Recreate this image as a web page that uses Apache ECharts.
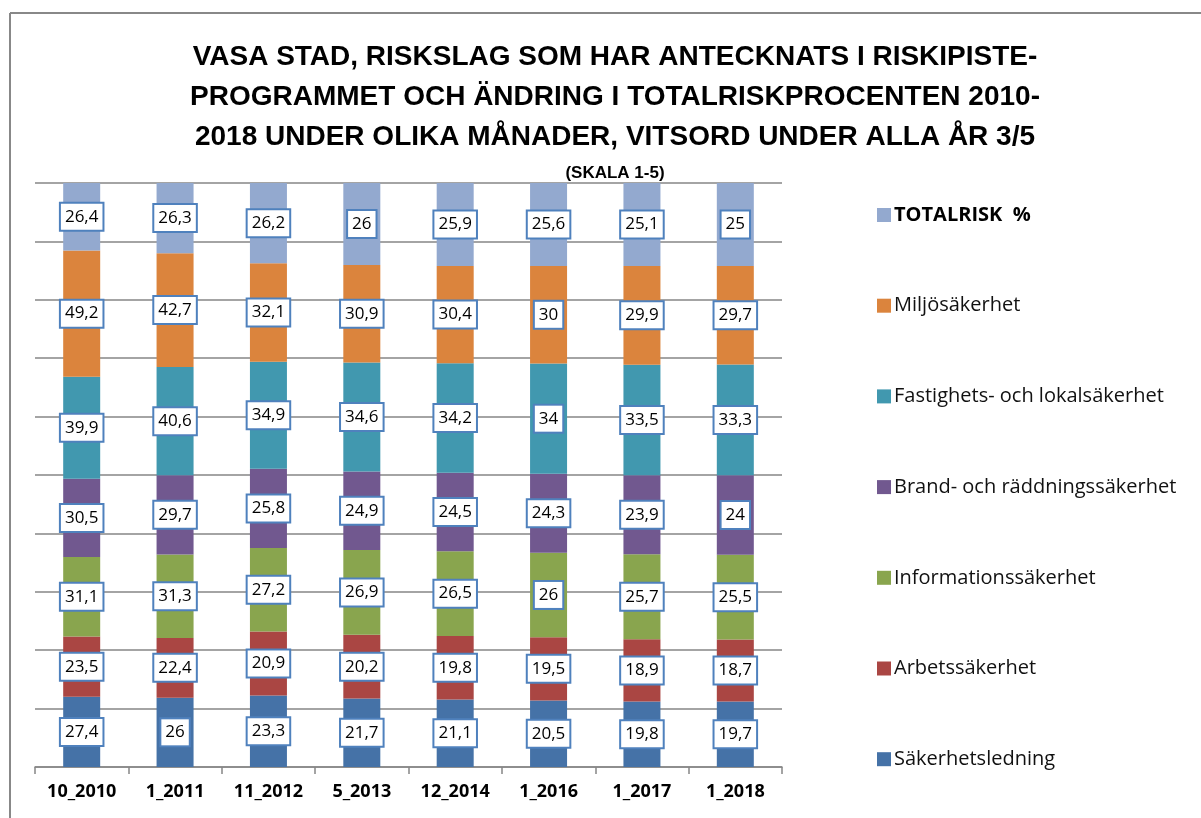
<!DOCTYPE html>
<html>
<head>
<meta charset="utf-8">
<script src="https://cdn.jsdelivr.net/npm/echarts@6/dist/echarts.min.js"></script>
<style>
  html, body { margin: 0; padding: 0; background: #fff; }
  #chart { width: 1201px; height: 818px; }
</style>
</head>
<body>
<div id="chart"></div>
<script>
// categories (month_year)
const categories = ['10_2010', '1_2011', '11_2012', '5_2013', '12_2014', '1_2016', '1_2017', '1_2018']

// risk types, bottom to top in the stack
const seriesNames = [
  'Säkerhetsledning',
  'Arbetssäkerhet',
  'Informationssäkerhet',
  'Brand- och räddningssäkerhet',
  'Fastighets- och lokalsäkerhet',
  'Miljösäkerhet',
  'TOTALRISK  %'
]

const sakerhetsledning = [27.4, 26, 23.3, 21.7, 21.1, 20.5, 19.8, 19.7]
const arbetssakerhet = [23.5, 22.4, 20.9, 20.2, 19.8, 19.5, 18.9, 18.7]
const informationssakerhet = [31.1, 31.3, 27.2, 26.9, 26.5, 26, 25.7, 25.5]
const brandsakerhet = [30.5, 29.7, 25.8, 24.9, 24.5, 24.3, 23.9, 24]
const fastighetssakerhet = [39.9, 40.6, 34.9, 34.6, 34.2, 34, 33.5, 33.3]
const miljosakerhet = [49.2, 42.7, 32.1, 30.9, 30.4, 30, 29.9, 29.7]
const totalrisk = [26.4, 26.3, 26.2, 26, 25.9, 25.6, 25.1, 25]

const allValues = [sakerhetsledning, arbetssakerhet, informationssakerhet, brandsakerhet,
  fastighetssakerhet, miljosakerhet, totalrisk]

const colors = ['#4572A7', '#AA4643', '#89A54E', '#71588F', '#4198AF', '#DB843D', '#93A9CF']

// 100% stacked: share of each column total
const totals = categories.map((_, i) => allValues.reduce((s, arr) => s + arr[i], 0))

const fmt = (v) => String(v).replace('.', ',')

const series = seriesNames.map((name, k) => ({
  name,
  type: 'bar',
  stack: 'all',
  barWidth: 37,
  itemStyle: { color: colors[k] },
  data: allValues[k].map((v, i) => ({ value: (v / totals[i]) * 100, raw: v })),
  label: {
    show: true,
    position: 'inside',
    formatter: (p) => fmt(p.data.raw),
    color: '#000',
    fontFamily: 'Open Sans',
    fontSize: 17,
    backgroundColor: '#fff',
    borderColor: '#4F81BD',
    borderWidth: 2,
    padding: [5, 4, 4, 4],
  },
}))

const chart = echarts.init(document.getElementById('chart'), null, { renderer: 'canvas' })

chart.setOption({
  animation: false,
  color: colors,
  title: [
    {
      text: 'VASA STAD, RISKSLAG SOM HAR ANTECKNATS I RISKIPISTE-\nPROGRAMMET OCH ÄNDRING I TOTALRISKPROCENTEN 2010-\n2018 UNDER OLIKA MÅNADER, VITSORD UNDER ALLA ÅR 3/5',
      left: 610,
      top: 32,
      textAlign: 'center',
      textStyle: {
        fontFamily: 'Liberation Sans, Arial, sans-serif',
        fontWeight: 'bold',
        fontSize: 28,
        lineHeight: 40,
        color: '#000',
      },
    },
    {
      text: '(SKALA 1-5)',
      left: 610,
      top: 160,
      textAlign: 'center',
      textStyle: {
        fontFamily: 'Liberation Sans, Arial, sans-serif',
        fontWeight: 'bold',
        fontSize: 17,
        color: '#000',
      },
    },
  ],
  legend: {
    orient: 'vertical',
    left: 872,
    top: 199,
    itemWidth: 14,
    itemHeight: 14,
    itemGap: 68.7,
    icon: 'rect',
    data: seriesNames.slice().reverse(),
    formatter: (name) => (name === 'TOTALRISK  %' ? '{b|' + name + '}' : name),
    textStyle: {
      fontFamily: 'Open Sans',
      fontSize: 20,
      lineHeight: 22,
      color: '#111',
      padding: [0, 0, 0, -2],
      rich: {
        b: { fontFamily: 'Open Sans', fontSize: 20, fontWeight: 'bold', color: '#000' },
      },
    },
  },
  grid: { left: 35, right: 419, top: 183, bottom: 51 },
  xAxis: {
    type: 'category',
    data: categories,
    axisLine: { lineStyle: { color: '#868686', width: 1.5 } },
    axisTick: { show: true, length: 7, lineStyle: { color: '#868686', width: 1.5 } },
    axisLabel: {
      fontFamily: 'Open Sans',
      fontWeight: 'bold',
      fontSize: 18,
      color: '#000',
      margin: 16,
    },
  },
  yAxis: {
    type: 'value',
    min: 0,
    max: 100,
    interval: 10,
    axisLabel: { show: false },
    axisLine: { show: false },
    axisTick: { show: false },
    splitLine: { lineStyle: { color: '#868686', width: 1.5 } },
  },
  graphic: [
    { type: 'line', shape: { x1: 10, y1: 13, x2: 1201, y2: 13 }, style: { stroke: '#888', lineWidth: 2 } },
    { type: 'line', shape: { x1: 10, y1: 13, x2: 10, y2: 818 }, style: { stroke: '#888', lineWidth: 2 } },
  ],
  series,
})
</script>
</body>
</html>
